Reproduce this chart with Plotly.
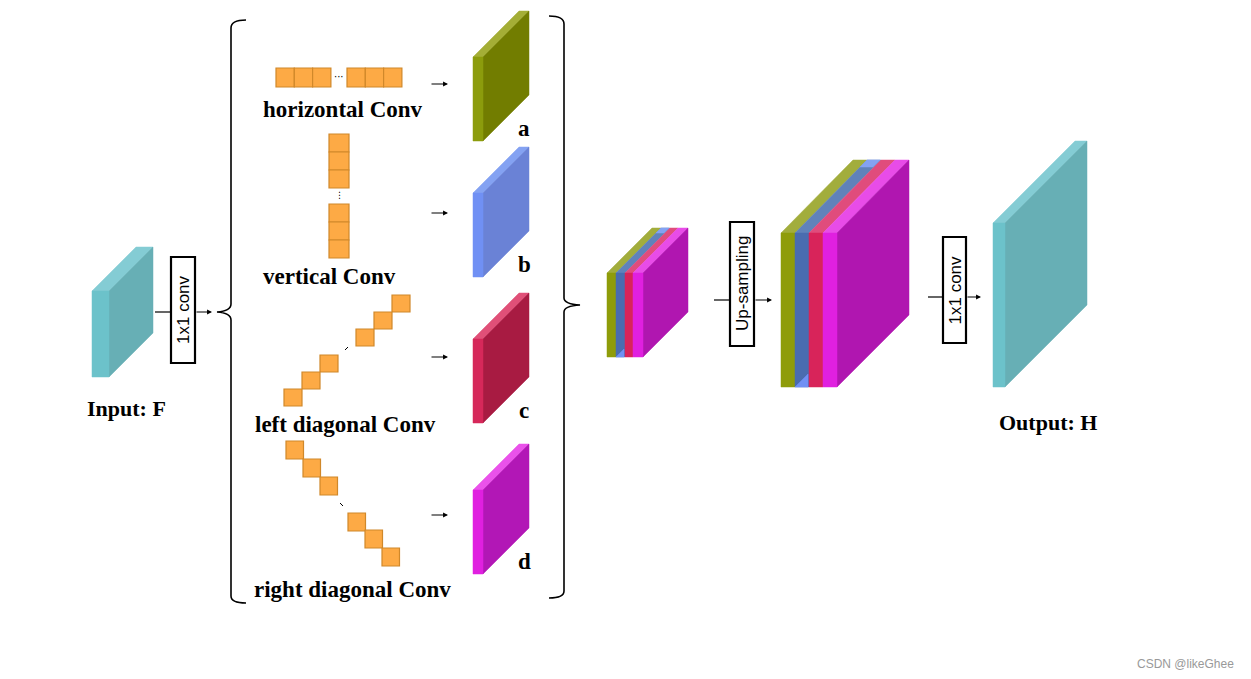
import plotly.graph_objects as go

W, H = 1251, 679
PAGE_OFFSET = 8  # default body margin of the html page

# ---- text content ----
branch_labels = ["horizontal Conv", "vertical Conv", "left diagonal Conv", "right diagonal Conv"]
branch_label_pos = [(343, 109), (329, 276), (345, 424), (352, 589)]
branch_letters = ["a", "b", "c", "d"]
conv_box_text = ["1x1 conv", "Up-sampling", "1x1 conv"]
io_labels = ["Input: F", "Output: H"]
watermark = "CSDN @likeGhee"

# ---- colours ----
branch_front = ["#8c9c0c", "#7090f4", "#d6285a", "#e020e0"]
branch_side = ["#727d00", "#6a82d6", "#a81b42", "#b217b6"]
branch_top = ["#a4ae36", "#84a2f2", "#e05078", "#ea52ea"]
stack_front = ["#8f9c0a", "#4a6cb0", "#d8245a", "#e020e0"]
stack_top = ["#a2ad3c", "#6082ba", "#e04c7c", "#e84ce8"]
stack_side = "#b016b0"
teal_front, teal_side, teal_top = "#6cc2ca", "#67afb5", "#84ccd4"
kernel_fill, kernel_edge = "#fdaa45", "#d0882a"

# ---- geometry (pixel layout of diagram) ----
branch_y_top = [57, 193, 339, 490]
branch_arrow_y = [84, 213, 357, 515]

shapes = []
annotations = []


def poly(pts, fill, line=None, lw=0):
    path = "M " + " L ".join(f"{x},{y}" for x, y in pts) + " Z"
    shapes.append(dict(type="path", path=path, xref="x", yref="y",
                       fillcolor=fill, line=dict(color=line or fill, width=lw if line else 0.5),
                       layer="above"))


def line(x0, y0, x1, y1, color="#000", w=1.2):
    shapes.append(dict(type="line", x0=x0, y0=y0, x1=x1, y1=y1, xref="x", yref="y",
                       line=dict(color=color, width=w), layer="above"))


def arrow(x0, x1, y):
    annotations.append(dict(x=x1, y=y, ax=x0, ay=y, xref="x", yref="y", axref="x", ayref="y",
                            showarrow=True, arrowhead=2, arrowsize=0.9, arrowwidth=1.1,
                            arrowcolor="#000", text=""))


def text(x, y, s, size=20, bold=True, family="Liberation Serif", color="#000", angle=0):
    annotations.append(dict(x=x, y=y, xref="x", yref="y", text=(f"<b>{s}</b>" if bold else s),
                            showarrow=False, textangle=angle,
                            font=dict(family=family, size=size, color=color)))


def slab(x, ytop, w, h, d, front, side, top):
    poly([(x, ytop), (x + d, ytop - d), (x + w + d, ytop - d), (x + w, ytop)], top)
    poly([(x + w, ytop), (x + w + d, ytop - d), (x + w + d, ytop - d + h), (x + w, ytop + h)], side)
    poly([(x, ytop), (x + w, ytop), (x + w, ytop + h), (x, ytop + h)], front)


def conv_box(x0, y0, x1, y1, s):
    shapes.append(dict(type="rect", x0=x0, y0=y0, x1=x1, y1=y1, xref="x", yref="y",
                       fillcolor="white", line=dict(color="#000", width=2.2), layer="above"))
    text((x0 + x1) / 2, (y0 + y1) / 2, s, size=17, bold=False, family="Liberation Sans", angle=-90)


def square(x, y, w, h):
    shapes.append(dict(type="rect", x0=x, y0=y, x1=x + w, y1=y + h, xref="x", yref="y",
                       fillcolor=kernel_fill, line=dict(color=kernel_edge, width=1.2), layer="above"))


# ---- input ----
slab(92, 291, 17, 86, 44, teal_front, teal_side, teal_top)
text(126, 408, io_labels[0], size=22)
line(155, 312, 171, 312)
conv_box(171, 257, 195, 363, conv_box_text[0])
arrow(195, 212, 312)

# ---- brackets ----
left_br = "M 246,20 Q 231,20 231,28 L 231,304 Q 231,311 217,312 Q 231,313 231,320 L 231,596 Q 231,603 246,603"
right_br = "M 549,16 Q 564,16 564,24 L 564,298 Q 564,304 580,305 Q 564,306 564,312 L 564,591 Q 564,598 549,598"
for p in (left_br, right_br):
    shapes.append(dict(type="path", path=p, xref="x", yref="y", line=dict(color="#000", width=1.6),
                       fillcolor="rgba(0,0,0,0)", layer="above"))

# ---- kernels ----
for gx in (276, 347):
    for k in range(3):
        square(gx + k * 18.3, 68, 18.3, 19)
text(339, 76, "···", size=10, bold=False, family="DejaVu Sans")
for gy in (134, 204):
    for k in range(3):
        square(329, gy + k * 18, 20, 18)
text(339, 195, "⋮", size=9, bold=False, family="DejaVu Sans")
ld_cells = [(392, 295), (374, 312), (356, 329), (320, 355), (302, 372), (284, 389)]
for x, y in ld_cells:
    square(x, y, 18, 17)
line(345, 350, 348, 347, w=1)
rd_cells = [(286, 441), (303, 459), (320, 477), (348, 513), (365, 530), (382, 548)]
for x, y in rd_cells:
    square(x, y, 17.5, 18)
line(340, 503, 343, 506, w=1)

for (lx, ly), s in zip(branch_label_pos, branch_labels):
    text(lx, ly, s, size=23)

# ---- branch outputs ----
for i in range(4):
    arrow(430, 448, branch_arrow_y[i])
    slab(473, branch_y_top[i], 10, 84, 46, branch_front[i], branch_side[i], branch_top[i])
    text(524, branch_y_top[i] + 71, branch_letters[i], size=23)

# ---- small stack ----
xs = [607, 616, 625, 633, 643]
for i in range(4):
    poly([(xs[i], 273), (xs[i] + 45, 228), (xs[i + 1] + 45, 228), (xs[i + 1], 273)], stack_top[i])
poly([(661, 228), (669, 228), (664, 233), (656, 233)], "#84a2f2")
poly([(643, 273), (688, 228), (688, 312), (643, 357)], stack_side)
for i in range(4):
    poly([(xs[i], 273), (xs[i + 1], 273), (xs[i + 1], 357), (xs[i], 357)], stack_front[i])
poly([(616, 357), (624, 349), (624, 357)], "#7090f4")

# ---- up-sampling ----
line(714, 300, 730, 300)
conv_box(730, 222, 754, 346, conv_box_text[1])
arrow(754, 772, 300)

# ---- large stack ----
XL = [781, 795, 809, 823, 837]
for i in range(4):
    poly([(XL[i], 233), (XL[i] + 72, 160), (XL[i + 1] + 72, 160), (XL[i + 1], 233)], stack_top[i])
poly([(867, 160), (880, 160), (873, 167), (860, 167)], "#84a2f2")
poly([(837, 233), (909, 160), (909, 315), (837, 387)], stack_side)
for i in range(4):
    poly([(XL[i], 233), (XL[i + 1], 233), (XL[i + 1], 387), (XL[i], 387)], stack_front[i])
poly([(795, 387), (808, 374), (808, 387)], "#7090f4")

# ---- output ----
line(928, 297, 943, 297)
conv_box(943, 237, 966, 343, conv_box_text[2])
arrow(966, 981, 297)
slab(993, 223, 12, 164, 82, teal_front, teal_side, teal_top)
text(1048, 422, io_labels[1], size=22)

text(1185, 664, watermark, size=12, bold=False, family="Liberation Sans", color="#999999")

fig = go.Figure()
fig.add_trace(go.Scatter(x=[PAGE_OFFSET, W + PAGE_OFFSET], y=[PAGE_OFFSET, H + PAGE_OFFSET],
                         mode="markers", marker=dict(opacity=0),
                         hoverinfo="skip", showlegend=False))
fig.update_layout(
    width=W, height=H, margin=dict(l=0, r=0, t=0, b=0),
    paper_bgcolor="white", plot_bgcolor="white",
    xaxis=dict(range=[PAGE_OFFSET, W + PAGE_OFFSET], visible=False, fixedrange=True),
    yaxis=dict(range=[H + PAGE_OFFSET, PAGE_OFFSET], visible=False, fixedrange=True),
    shapes=shapes, annotations=annotations, showlegend=False,
)
fig.write_html("out.html")
